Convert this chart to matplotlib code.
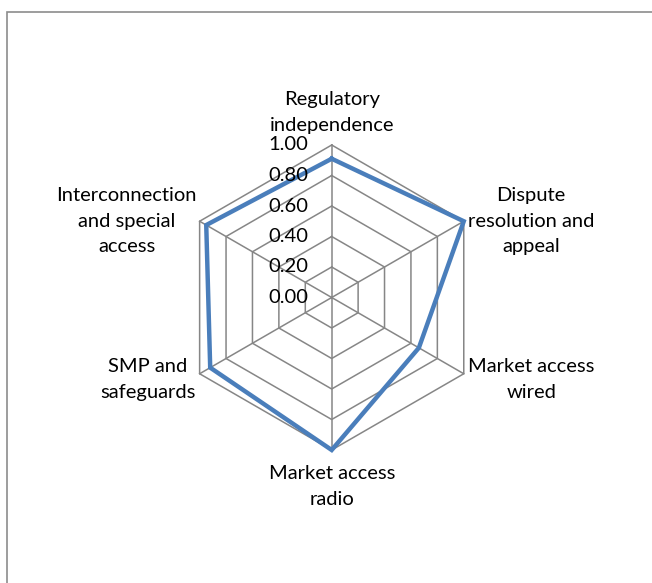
import numpy as np
import matplotlib
matplotlib.use("Agg")
from matplotlib import pyplot as plt
from matplotlib.patches import Rectangle

# Chart data.
categories = ["Regulatory\nindependence", "Dispute\nresolution and\nappeal",
              "Market access\nwired", "Market access\nradio",
              "SMP and\nsafeguards", "Interconnection\nand special\naccess"]
values = [0.91, 1.00, 0.66, 1.00, 0.92, 0.95]
ticks = [0.0, 0.2, 0.4, 0.6, 0.8, 1.0]
tick_labels = ["0.00", "0.20", "0.40", "0.60", "0.80", "1.00"]

plt.rcParams['font.family'] = ['Lato', 'DejaVu Sans']

W, H = 652, 583
cx, cy, R = 331.7, 297.5, 152.5  # center and radius in pixels (from top-left)

fig = plt.figure(figsize=(W / 100, H / 100), dpi=100)
ax = fig.add_axes([0, 0, 1, 1])
ax.set_xlim(-cx / R, (W - cx) / R)
ax.set_ylim(-(H - cy) / R, cy / R)
ax.axis("off")

# Angles clockwise from top.
n = len(categories)
theta = np.arange(n) * 2 * np.pi / n


def to_xy(r, th):
    return np.asarray(r) * np.sin(th), np.asarray(r) * np.cos(th)


grid_color = "#868686"
# Hexagon rings.
for t in ticks[1:]:
    x, y = to_xy(np.full(n + 1, t), np.append(theta, theta[0]))
    ax.plot(x, y, color=grid_color, lw=1.1, zorder=1)
# Spokes.
for th in theta:
    x, y = to_xy([0, ticks[-1]], np.array([th, th]))
    ax.plot(x, y, color=grid_color, lw=1.1, zorder=1)

# Data series.
x, y = to_xy(np.append(values, values[0]), np.append(theta, theta[0]))
ax.plot(x, y, color="#4a7ebb", lw=3.2, solid_joinstyle="miter", zorder=3)

# Radial tick labels.
for t, lab in zip(ticks, tick_labels):
    ax.annotate(lab, (0, t), xytext=(-17, 0), textcoords="offset points",
                ha="right", va="center", fontsize=14.5, color="#000000")

# Category labels.
offsets = [((0, 8), "center", "bottom"),
           ((3, 0), "left", "center"),
           ((3, -4), "left", "center"),
           ((0, -11), "center", "top"),
           ((-3, -4), "right", "center"),
           ((-2, 0), "right", "center")]
for cat, th, (off, ha, va) in zip(categories, theta, offsets):
    px, py = to_xy(1.0, th)
    ax.annotate(cat, (px, py), xytext=off, textcoords="offset points",
                ha=ha, va=va, multialignment="center", fontsize=14.5,
                linespacing=1.6, color="#000000")

# Chart area border.
fig.patches.append(Rectangle((7 / W, -0.1), 1.2, 1.1 - 12 / H,
                             transform=fig.transFigure, fill=False,
                             edgecolor="#8c8c8c", lw=1.2, clip_on=False))

fig.savefig("out.png", dpi=100)
